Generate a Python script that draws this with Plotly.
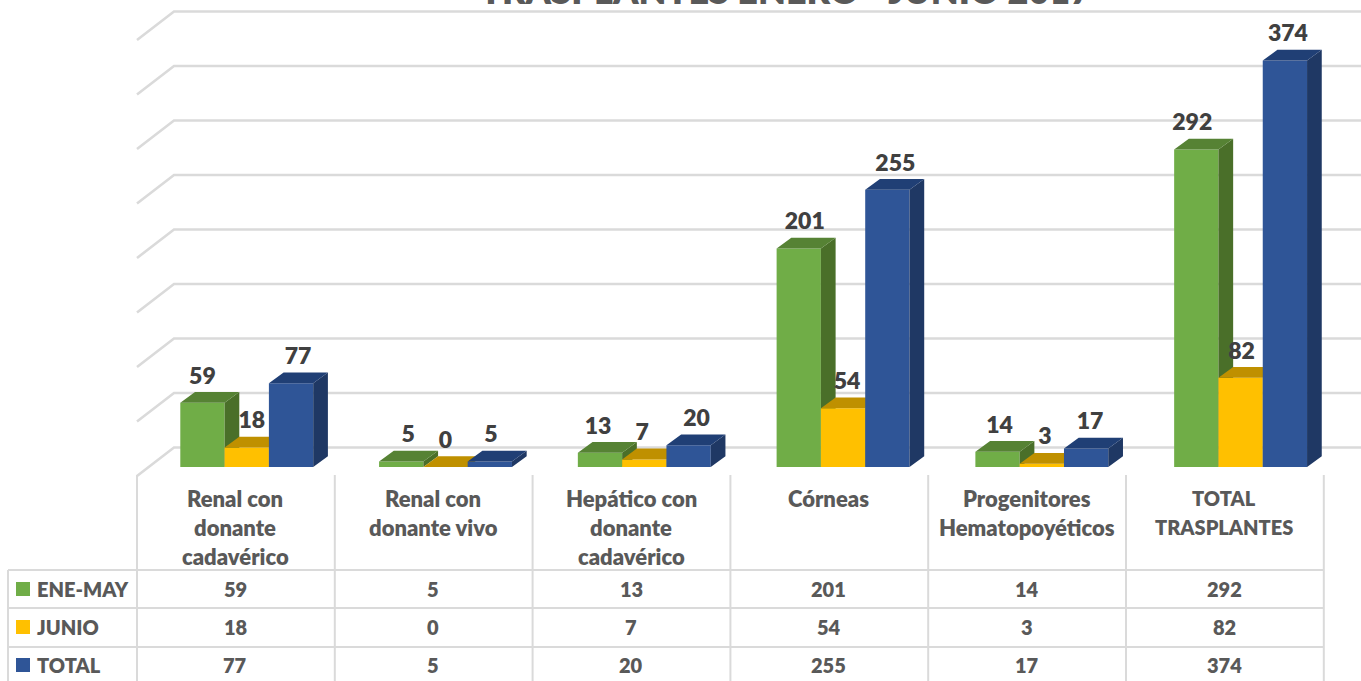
import plotly.graph_objects as go

categories = [["Renal con", "donante", "cadavérico"], ["Renal con", "donante vivo"],
              ["Hepático con", "donante", "cadavérico"], ["Córneas"],
              ["Progenitores", "Hematopoyéticos"], ["TOTAL", "TRASPLANTES"]]
series_names = ["ENE-MAY", "JUNIO", "TOTAL"]
ene_may = [59, 5, 13, 201, 14, 292]
junio = [18, 0, 7, 54, 3, 82]
total = [77, 5, 20, 255, 17, 374]
grid_values = [0, 50, 100, 150, 200, 250, 300, 350, 400]
title_text = "TRASPLANTES ENERO - JUNIO 2017"

front = ["#70AD47", "#FFC000", "#2F5597"]
top_c = ["#568234", "#BF9000", "#203F75"]
side_c = ["#4A6F29", "#BF9000", "#1F3864"]
GRID = "#DADADA"
TXT = "#595959"
LBL = "#404040"
FONT = "Lato"

W, H = 1361, 681
GROUP_PX = 198.77
ZERO_X_PX = 246.75
BAR_PX = 44.3
ZERO_Y_PX = 467.0
UNIT_PX = 1.087
GRID_UNIT_PX = 1.09
DX = 14.7 / GROUP_PX
DY = 10.8 / UNIT_PX
xr = [-ZERO_X_PX / GROUP_PX, (W - ZERO_X_PX) / GROUP_PX]
yr = [(ZERO_Y_PX - H) / UNIT_PX, ZERO_Y_PX / UNIT_PX]
w = BAR_PX / GROUP_PX


def xd(px):
    return (px - ZERO_X_PX) / GROUP_PX


def yd(dpx):
    return dpx / UNIT_PX


fig = go.Figure()
all_series = [ene_may, junio, total]

for s, vals in enumerate(all_series):
    ax = "" if s == 0 else str(s + 1)
    xa, ya = "x" + ax, "y" + ax
    xs = [i + (s - 1) * w for i in range(len(vals))]
    fig.add_trace(go.Bar(x=xs, y=vals, width=w, name=series_names[s],
                         marker=dict(color=front[s], line=dict(width=0)),
                         xaxis=xa, yaxis=ya, showlegend=False))
    tx, ty, sx, sy = [], [], [], []
    for x, v in zip(xs, vals):
        l, r = x - w / 2, x + w / 2
        tx += [l, l + DX, r + DX, r, l, None]
        ty += [v, v + DY, v + DY, v, v, None]
        sx += [r, r + DX, r + DX, r, r, None]
        sy += [v, v + DY, DY, 0, v, None]
    for px_, py_, c in ((sx, sy, side_c[s]), (tx, ty, top_c[s])):
        fig.add_trace(go.Scatter(x=px_, y=py_, mode="lines", fill="toself", fillcolor=c,
                                 line=dict(width=0), hoverinfo="skip",
                                 xaxis=xa, yaxis=ya, showlegend=False))

# data labels, above every series (horizontal nudge in px per series / category)
label_nudge_px = [[0, 7, -2, 6, 2, -4], [5, 0, -2, 4, 3, 1], [7, 1, 8, 8, 4, 3]]
for s, vals in enumerate(all_series):
    fig.add_trace(go.Scatter(
        x=[i + (s - 1) * w + label_nudge_px[s][i] / GROUP_PX for i in range(len(vals))],
        y=[v + yd(25) for v in vals],
        text=[str(v) for v in vals], mode="text", textposition="middle center",
        textfont=dict(family=FONT, size=23, color=LBL, weight=800),
        hoverinfo="skip", xaxis="x4", yaxis="y4", showlegend=False))

layout = dict(
    width=W, height=H, margin=dict(l=0, r=0, t=0, b=0),
    paper_bgcolor="white", plot_bgcolor="rgba(0,0,0,0)", barmode="overlay",
    showlegend=False,
    xaxis=dict(range=xr, visible=False, domain=[0, 1]),
    yaxis=dict(range=yr, visible=False, domain=[0, 1]),
)
for n in (2, 3, 4):
    layout[f"xaxis{n}"] = dict(range=xr, visible=False, overlaying="x", anchor=f"y{n}")
    layout[f"yaxis{n}"] = dict(range=yr, visible=False, overlaying="y", anchor=f"x{n}")

shapes = []
# walls: gridlines run from the front-left floor edge to the back wall, then to the right
for v in grid_values:
    g = v * GRID_UNIT_PX / UNIT_PX
    shapes.append(dict(type="path", xref="x", yref="y", layer="below",
                       path=f"M {xd(137)} {g - yd(9)} L {xd(174)} {g + yd(19.5)} L {xd(W)} {g + yd(19.5)}",
                       line=dict(color=GRID, width=2.6)))


def pline(x0, y0, x1, y1):
    shapes.append(dict(type="line", xref="paper", yref="paper", layer="below",
                       x0=x0 / W, x1=x1 / W, y0=1 - y0 / H, y1=1 - y1 / H,
                       line=dict(color=GRID, width=2)))


COL0, COLW = 137.0, 197.8
ROWS = [570, 608, 647]
for i in range(len(categories) + 1):
    pline(COL0 + i * COLW, 475, COL0 + i * COLW, H + 5)
pline(8, ROWS[0], 8, H + 5)
for r in ROWS:
    pline(8, r, COL0 + len(categories) * COLW, r)

annotations = []


def note(px, py, text, size, color=TXT, anchor="center"):
    annotations.append(dict(xref="paper", yref="paper", x=px / W, y=1 - py / H, text=text,
                            showarrow=False, xanchor=anchor, yanchor="middle",
                            font=dict(family=FONT, size=size, color=color, weight=800)))


note(785, -10, title_text, 36)
LINE_Y = [498, 527, 556]
for i, lines in enumerate(categories):
    for k, t in enumerate(lines):
        note(COL0 + (i + 0.5) * COLW - 0.5, LINE_Y[k], t, 20 if t.isupper() else 22)
VAL_Y = [589, 627, 665]
for r, vals in enumerate(all_series):
    shapes.append(dict(type="rect", xref="paper", yref="paper", x0=16 / W, x1=30 / W,
                       y0=1 - (VAL_Y[r] - 7) / H, y1=1 - (VAL_Y[r] + 7) / H,
                       fillcolor=front[r], line=dict(width=0)))
    note(35, VAL_Y[r] - 0.5, series_names[r], 20, anchor="left")
    for i, v in enumerate(vals):
        note(COL0 + (i + 0.5) * COLW - 0.5, VAL_Y[r], str(v), 20)

layout["shapes"] = shapes
layout["annotations"] = annotations
fig.update_layout(**layout)
fig.write_html("out.html", config={"displayModeBar": False},
               post_script="document.body.style.margin='0';document.body.style.overflow='hidden';")
